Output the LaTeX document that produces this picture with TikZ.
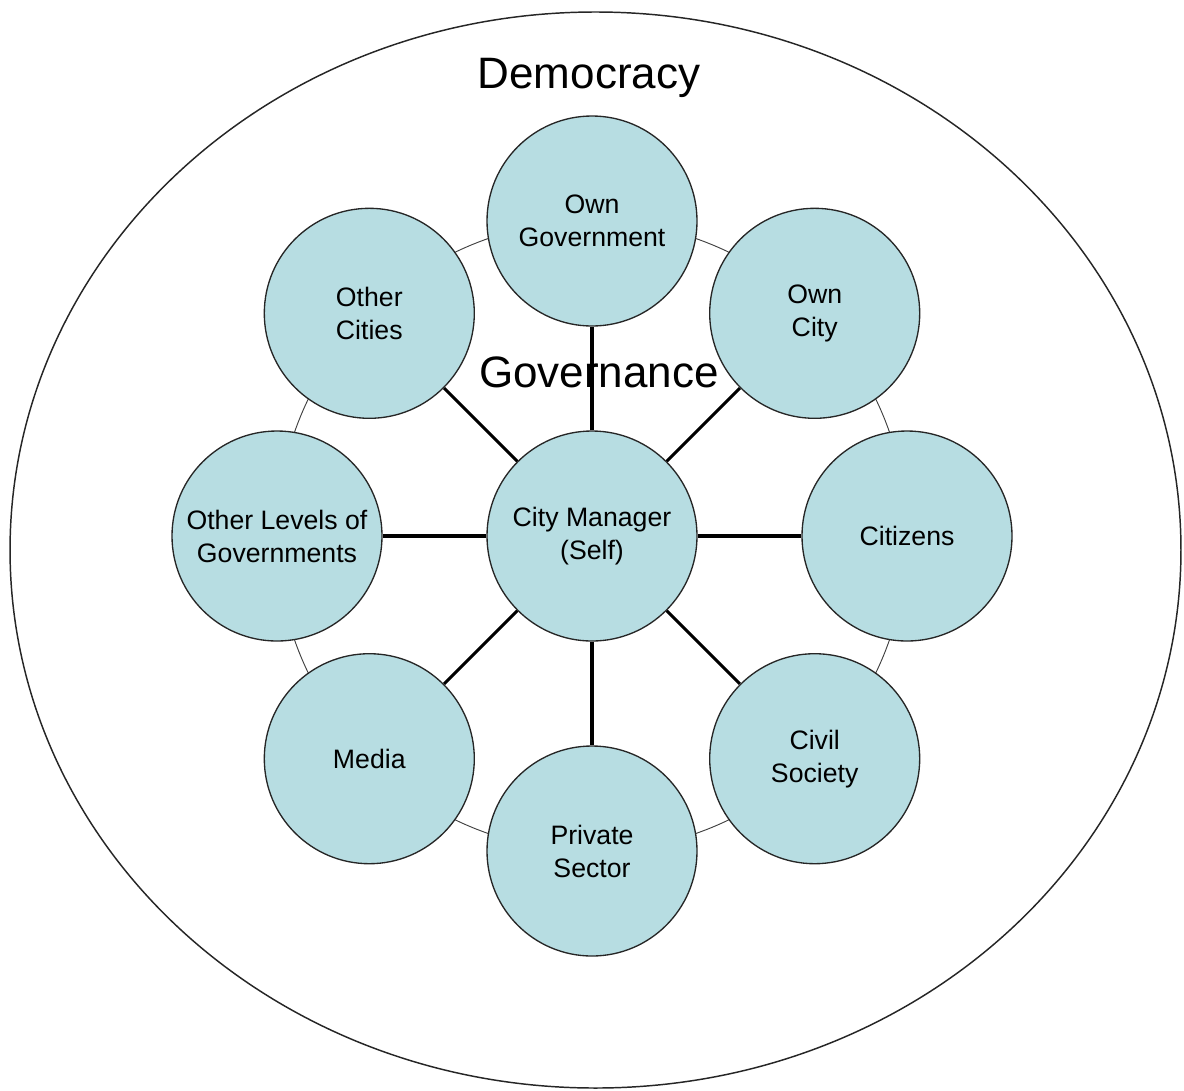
\documentclass[tikz,border=0pt]{standalone}
\usepackage{fontspec}
\setmainfont{Liberation Sans}
\usetikzlibrary{backgrounds}

\definecolor{actorblue}{RGB}{183,221,226}

\begin{document}
\begin{tikzpicture}[x=0.75pt, y=-0.75pt,
    actor/.style={draw=black!85, line width=1pt, fill=actorblue, circle,
      minimum size=157.5pt, inner sep=0pt, align=center,
      font=\fontsize{20}{24.75}\selectfont},
    spoke/.style={line width=2.3pt},
    every node/.style={text=black}]
    \useasboundingbox (0,0) rectangle (1184,1090);
    \node[actor] (self) at (592,536) {City Manager\\(Self)};
    \node[actor] (gov) at (592,221) {Own\\Government};
    \node[actor] (city) at (814.7,313.3) {Own\\City};
    \node[actor] (cit) at (907,536) {Citizens};
    \node[actor] (civ) at (814.7,758.7) {Civil\\Society};
    \node[actor] (priv) at (592,851) {Private\\Sector};
    \node[actor] (med) at (369.3,758.7) {Media};
    \node[actor] (levels) at (277,536) {Other Levels of\\Governments};
    \node[actor] (others) at (369.3,313.3) {Other\\Cities};
    \node[font=\fontsize{33}{40}\selectfont] (dem) at (589,78) {Democracy};
    \node[font=\fontsize{33}{40}\selectfont] (govn) at (599,372) {Governance};
    \begin{pgfonlayer}{background}
      \draw[black!85, line width=1.1pt] (595.5,550) ellipse [x radius=439.1pt, y radius=403.5pt];
      \draw[black!75, line width=0.7pt] (self.center) circle [radius=236.25pt];
      \draw[spoke] (self) -- (gov);
      \draw[spoke] (self) -- (city);
      \draw[spoke] (self) -- (cit);
      \draw[spoke] (self) -- (civ);
      \draw[spoke] (self) -- (priv);
      \draw[spoke] (self) -- (med);
      \draw[spoke] (self) -- (levels);
      \draw[spoke] (self) -- (others);
    \end{pgfonlayer}
  \end{tikzpicture}
\end{document}
